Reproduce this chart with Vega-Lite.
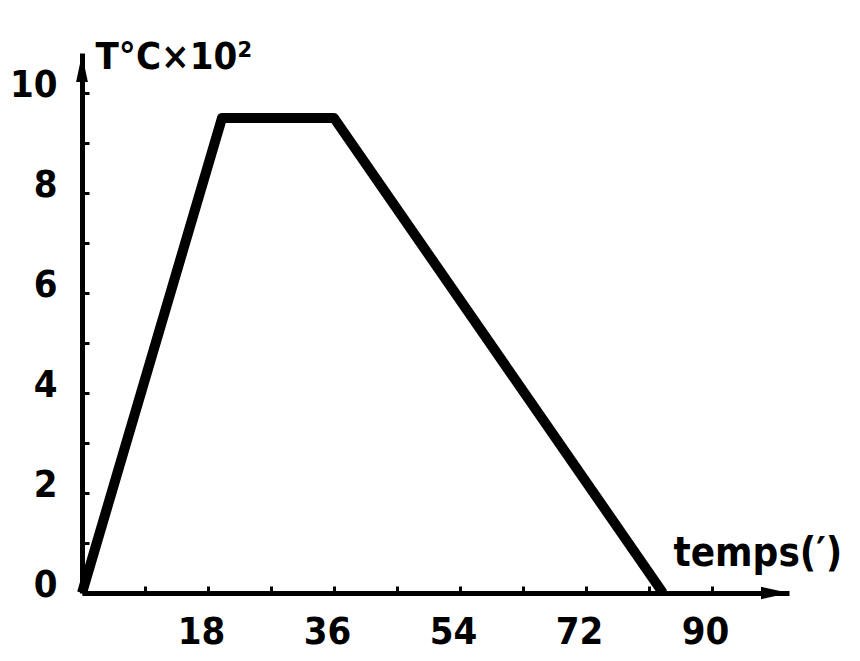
{
  "$schema": "https://vega.github.io/schema/vega-lite/v6.json",
  "width": 707,
  "height": 540,
  "autosize": "none",
  "padding": {"left": 82, "top": 53, "right": 71, "bottom": 68},
  "background": "white",
  "config": {
    "view": {"stroke": null},
    "font": "DejaVu Sans Condensed, DejaVu Sans",
    "axis": {
      "domainColor": "black",
      "domainWidth": 5,
      "tickColor": "black",
      "tickWidth": 3,
      "tickSize": -7,
      "grid": false,
      "labelFont": "DejaVu Sans Condensed, DejaVu Sans",
      "labelFontSize": 38,
      "labelFontWeight": "bold",
      "labelColor": "black",
      "titleFont": "DejaVu Sans Condensed, DejaVu Sans",
      "titleFontWeight": "bold",
      "titleColor": "black"
    }
  },
  "datasets": {
    "curve": [
      {"t": 0, "T": 0},
      {"t": 20, "T": 9.5},
      {"t": 36, "T": 9.5},
      {"t": 83, "T": 0}
    ],
    "arrows": [
      {"t": 0, "T": 10.5, "dir": "up"},
      {"t": 99, "T": 0, "dir": "right"}
    ]
  },
  "layer": [
    {
      "data": {"name": "curve"},
      "mark": {"type": "line", "color": "black", "strokeWidth": 10, "strokeJoin": "round", "strokeCap": "butt", "clip": false},
      "encoding": {
        "x": {
          "field": "t", "type": "quantitative",
          "scale": {"domain": [0, 101], "nice": false, "zero": true},
          "axis": {
            "values": [9, 18, 27, 36, 45, 54, 63, 72, 81, 90],
            "labelExpr": "datum.value % 18 === 0 ? datum.label : ''",
            "labelPadding": 27,
            "labelOffset": -7,
            "labelFlush": false,
            "title": "temps(′)",
            "titleFontSize": 40,
            "titleAnchor": "start",
            "titleAlign": "left",
            "titleBaseline": "alphabetic",
            "titleX": 591,
            "titleY": -28
          }
        },
        "y": {
          "field": "T", "type": "quantitative",
          "scale": {"domain": [0, 10.8], "nice": false},
          "axis": {
            "values": [0, 1, 2, 3, 4, 5, 6, 7, 8, 9, 10],
            "labelExpr": "datum.value % 2 === 0 ? datum.label : ''",
            "labelPadding": 32,
            "labelOffset": -8,
            "labelFlush": false,
            "title": "T°C×10²",
            "titleFontSize": 38,
            "titleAngle": 0,
            "titleAlign": "left",
            "titleBaseline": "alphabetic",
            "titleX": 13,
            "titleY": 15
          }
        }
      }
    },
    {
      "data": {"name": "arrows"},
      "mark": {"type": "point", "filled": true, "color": "black", "opacity": 1, "size": 784, "clip": false},
      "encoding": {
        "x": {"field": "t", "type": "quantitative"},
        "y": {"field": "T", "type": "quantitative"},
        "shape": {
          "field": "dir", "type": "nominal", "legend": null,
          "scale": {"domain": ["up", "right"], "range": ["M0,-1L0.42,1L-0.42,1Z", "M1,0L-1,0.45L-1,-0.45Z"]}
        }
      }
    }
  ]
}
